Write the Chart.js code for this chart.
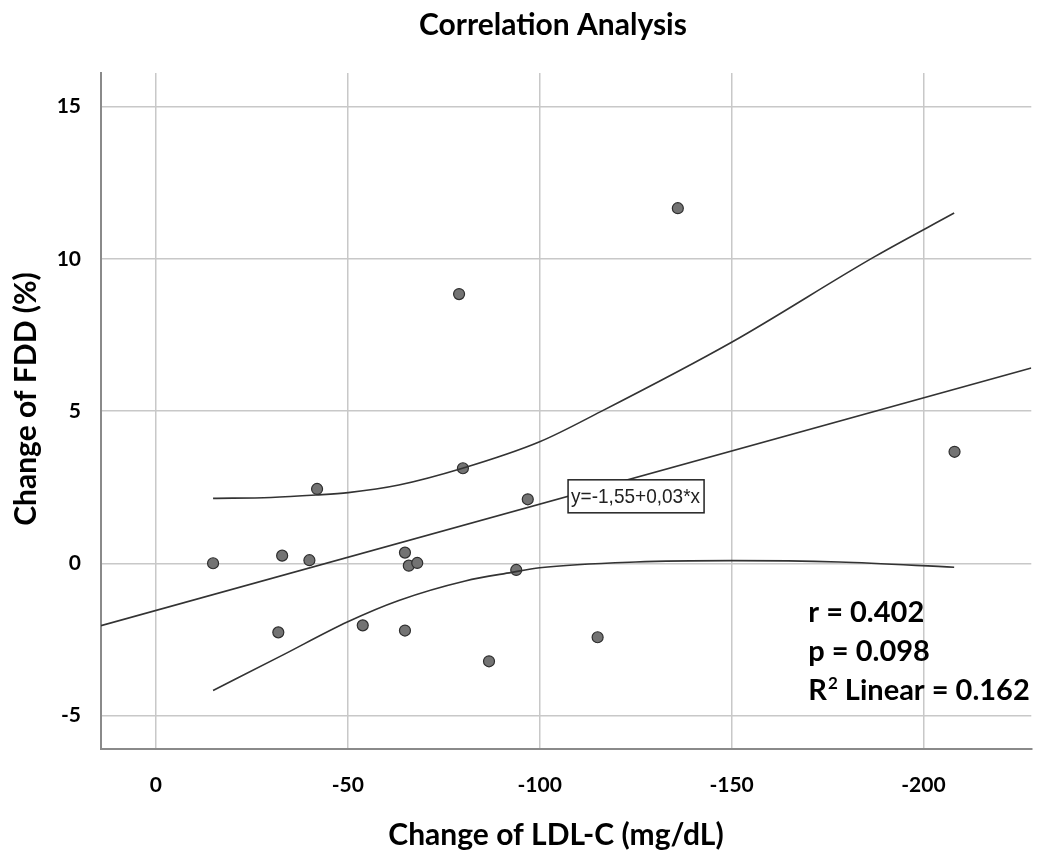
<!DOCTYPE html>
<html>
<head>
<meta charset="utf-8">
<script src="https://cdn.jsdelivr.net/npm/chart.js@4.4.1/dist/chart.umd.min.js"></script>
<style>
  html, body { margin: 0; padding: 0; background: #fff; }
</style>
</head>
<body>
<canvas id="myChart" width="1038" height="852"></canvas>
<script>
// LDL-C change (x) vs FDD change (y), one point per patient
const ldlChange = [-14.9, -32.9, -40.0, -42.0, -31.9, -53.9, -64.9, -65.9, -68.1,
                   -64.9, -80.0, -93.9, -96.9, -86.8, -115.1, -208.1, -79.0, -136.0];
const fddChange = [0.0, 0.25, 0.10, 2.44, -2.27, -2.04, 0.35, -0.08, 0.01,
                   -2.21, 3.12, -0.22, 2.10, -3.22, -2.43, 3.66, 8.84, 11.66];

// linear fit, drawn across the whole plot
const fitX = [14.3, -228.1];
const fitY = [-2.05, 6.41];

// 95% confidence band of the fit
const upperX = [-14.9, -30, -41.7, -50.1, -63.3, -79.9, -100, -115.9, -149.9, -187.3, -208];
const upperY = [2.13, 2.16, 2.24, 2.32, 2.57, 3.12, 3.99, 4.98, 7.25, 10.07, 11.50];
const lowerX = [-14.9, -32.5, -50, -63.3, -80.6, -92.7, -100, -125, -150, -178, -208];
const lowerY = [-4.18, -3.05, -1.92, -1.22, -0.58, -0.30, -0.15, 0.04, 0.085, 0.04, -0.13];

const xTicks = [0, -50, -100, -150, -200];
const yTicks = [-5, 0, 5, 10, 15];

const FONT = 'Lato, "Open Sans", sans-serif';

const toXY = (xs, ys) => xs.map((v, i) => ({ x: v, y: ys[i] }));

const lineStyle = {
    type: 'scatter',
    showLine: true,
    borderColor: '#333333',
    borderWidth: 1.6,
    pointRadius: 0,
    fill: false,
    cubicInterpolationMode: 'monotone'
};

// chart title and axis titles
const titles = {
    id: 'titles',
    afterDraw(chart) {
        const { ctx } = chart;
        ctx.save();
        ctx.fillStyle = '#000000';
        ctx.font = 'bold 30px ' + FONT;
        ctx.textAlign = 'center';
        ctx.textBaseline = 'alphabetic';
        ctx.fillText('Correlation Analysis', 553, 35);
        ctx.fillText('Change of LDL-C (mg/dL)', 556, 845);
        ctx.translate(36, 399);
        ctx.rotate(-Math.PI / 2);
        ctx.fillText('Change of FDD (%)', 0, 0);
        ctx.restore();
    }
};

// equation label and statistics text
const annotations = {
    id: 'annotations',
    afterDatasetsDraw(chart) {
        const { ctx, scales: { x, y } } = chart;
        ctx.save();

        // equation box sitting on the fit line
        const bx = x.getPixelForValue(-107.4);
        const by = y.getPixelForValue(2.74);
        const bw = 136, bh = 33;
        ctx.fillStyle = '#ffffff';
        ctx.fillRect(bx, by, bw, bh);
        ctx.strokeStyle = '#222222';
        ctx.lineWidth = 1.5;
        ctx.strokeRect(bx, by, bw, bh);

        const eq = 'y=-1,55+0,03*x';
        ctx.font = '21px "Liberation Sans", Arial, sans-serif';
        const w = ctx.measureText(eq).width;
        ctx.translate(bx + 3, by + bh / 2 + 1);
        ctx.scale(129 / w, 1);
        ctx.fillStyle = '#222222';
        ctx.textBaseline = 'middle';
        ctx.fillText(eq, 0, 0);
        ctx.setTransform(1, 0, 0, 1, 0, 0);

        // r, p and R squared
        const left = chart.chartArea.right - 223;
        const big = 'bold 29px ' + FONT;
        ctx.fillStyle = '#000000';
        ctx.textBaseline = 'alphabetic';
        ctx.font = big;
        ctx.fillText('r = 0.402', left, 622);
        ctx.fillText('p = 0.098', left, 661);
        ctx.fillText('R', left, 700);
        const rw = ctx.measureText('R').width;
        ctx.font = 'bold 17px ' + FONT;
        ctx.fillText('2', left + rw + 1, 689);
        const sw = ctx.measureText('2').width;
        ctx.font = big;
        ctx.fillText(' Linear = 0.162', left + rw + sw + 1, 700);

        ctx.restore();
    }
};

new Chart(document.getElementById('myChart'), {
    type: 'scatter',
    data: {
        datasets: [
            {
                ...lineStyle,
                data: toXY(fitX, fitY),
                cubicInterpolationMode: 'default',
                tension: 0
            },
            { ...lineStyle, data: toXY(upperX, upperY) },
            { ...lineStyle, data: toXY(lowerX, lowerY) },
            {
                data: toXY(ldlChange, fddChange),
                pointRadius: 5.5,
                pointBackgroundColor: '#737373',
                pointBorderColor: '#2e2e2e',
                pointBorderWidth: 1.2
            }
        ]
    },
    options: {
        responsive: false,
        animation: false,
        layout: { padding: { top: 73, right: 3, left: 0, bottom: 0 } },
        plugins: {
            legend: { display: false },
            tooltip: { enabled: false },
            title: { display: false }
        },
        scales: {
            x: {
                type: 'linear',
                reverse: true,
                min: -228.1,
                max: 14.3,
                afterFit: (scale) => { scale.height = 103; },
                afterBuildTicks: (scale) => { scale.ticks = xTicks.map(v => ({ value: v })); },
                grid: { color: '#c8c8c8', lineWidth: 1.5, drawTicks: false },
                border: { display: true, color: '#8a8a8a', width: 2 },
                ticks: {
                    color: '#000000',
                    padding: 24,
                    font: { family: FONT, size: 21, weight: 'bold' }
                }
            },
            y: {
                type: 'linear',
                min: -6.1,
                max: 16.1,
                afterFit: (scale) => { scale.width = 101; },
                afterBuildTicks: (scale) => { scale.ticks = yTicks.map(v => ({ value: v })); },
                grid: { color: '#c8c8c8', lineWidth: 1.5, drawTicks: false },
                border: { display: true, color: '#8a8a8a', width: 2 },
                ticks: {
                    color: '#000000',
                    padding: 20,
                    font: { family: FONT, size: 21, weight: 'bold' }
                }
            }
        }
    },
    plugins: [annotations, titles]
});
</script>
</body>
</html>
